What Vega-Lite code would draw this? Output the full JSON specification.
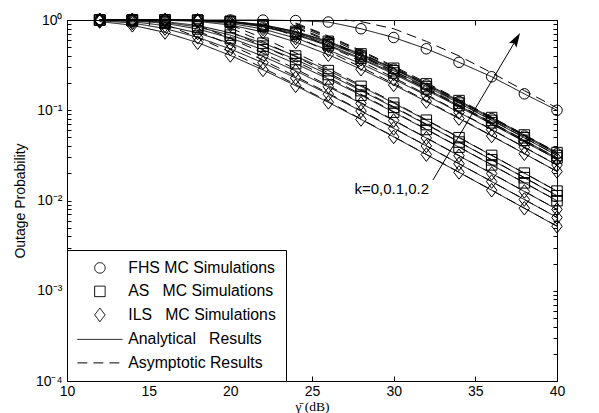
{
  "$schema": "https://vega.github.io/schema/vega-lite/v6.json",
  "width": 490,
  "height": 361,
  "autosize": {"type": "none"},
  "padding": {"left": 67, "top": 20, "right": 42, "bottom": 32},
  "background": "white",
  "config": {
    "font": "Liberation Sans",
    "view": {"stroke": "black", "strokeWidth": 1},
    "axis": {"grid": false, "domainColor": "black", "domainWidth": 1, "tickColor": "black", "tickWidth": 1, "labelColor": "black", "labelFont": "Liberation Sans", "labelFontSize": 14, "titleColor": "black", "titleFontWeight": "normal", "titleFontSize": 14, "labelOverlap": false, "labelFlush": false},
    "legend": {"orient": "bottom-left", "offset": 0, "padding": 10, "strokeColor": "black", "fillColor": "white", "labelFont": "Liberation Sans", "labelFontSize": 15.8, "labelColor": "black", "labelOffset": 20.5, "symbolOffset": 15, "rowPadding": 6.5, "symbolSize": 110, "symbolStrokeWidth": 1, "symbolStrokeColor": "black", "symbolFillColor": "transparent", "labelLimit": 300, "cornerRadius": 0}
  },
  "datasets": {
    "sim": [
      {"x":12,"p":1,"s":"F0","g":"FHS"},{"x":14,"p":1,"s":"F0","g":"FHS"},{"x":16,"p":1,"s":"F0","g":"FHS"},{"x":18,"p":1,"s":"F0","g":"FHS"},{"x":20,"p":1,"s":"F0","g":"FHS"},{"x":22,"p":0.998,"s":"F0","g":"FHS"},{"x":24,"p":0.985,"s":"F0","g":"FHS"},{"x":26,"p":0.95,"s":"F0","g":"FHS"},{"x":28,"p":0.8,"s":"F0","g":"FHS"},{"x":30,"p":0.64,"s":"F0","g":"FHS"},{"x":32,"p":0.48,"s":"F0","g":"FHS"},{"x":34,"p":0.34,"s":"F0","g":"FHS"},{"x":36,"p":0.235,"s":"F0","g":"FHS"},{"x":38,"p":0.152,"s":"F0","g":"FHS"},{"x":40,"p":0.1,"s":"F0","g":"FHS"},
      {"x":12,"p":1,"s":"F1","g":"FHS"},{"x":14,"p":1,"s":"F1","g":"FHS"},{"x":16,"p":0.9998,"s":"F1","g":"FHS"},{"x":18,"p":0.9951,"s":"F1","g":"FHS"},{"x":20,"p":0.965,"s":"F1","g":"FHS"},{"x":22,"p":0.879,"s":"F1","g":"FHS"},{"x":24,"p":0.737,"s":"F1","g":"FHS"},{"x":26,"p":0.569,"s":"F1","g":"FHS"},{"x":28,"p":0.412,"s":"F1","g":"FHS"},{"x":30,"p":0.285,"s":"F1","g":"FHS"},{"x":32,"p":0.1906,"s":"F1","g":"FHS"},{"x":34,"p":0.1249,"s":"F1","g":"FHS"},{"x":36,"p":0.0807,"s":"F1","g":"FHS"},{"x":38,"p":0.0517,"s":"F1","g":"FHS"},{"x":40,"p":0.0329,"s":"F1","g":"FHS"},
      {"x":12,"p":1,"s":"A1a","g":"AS"},{"x":14,"p":1,"s":"A1a","g":"AS"},{"x":16,"p":0.9998,"s":"A1a","g":"AS"},{"x":18,"p":0.9958,"s":"A1a","g":"AS"},{"x":20,"p":0.968,"s":"A1a","g":"AS"},{"x":22,"p":0.887,"s":"A1a","g":"AS"},{"x":24,"p":0.747,"s":"A1a","g":"AS"},{"x":26,"p":0.58,"s":"A1a","g":"AS"},{"x":28,"p":0.421,"s":"A1a","g":"AS"},{"x":30,"p":0.292,"s":"A1a","g":"AS"},{"x":32,"p":0.196,"s":"A1a","g":"AS"},{"x":34,"p":0.128,"s":"A1a","g":"AS"},{"x":36,"p":0.083,"s":"A1a","g":"AS"},{"x":38,"p":0.0532,"s":"A1a","g":"AS"},{"x":40,"p":0.0339,"s":"A1a","g":"AS"},
      {"x":12,"p":1,"s":"A1b","g":"AS"},{"x":14,"p":1,"s":"A1b","g":"AS"},{"x":16,"p":0.9997,"s":"A1b","g":"AS"},{"x":18,"p":0.9937,"s":"A1b","g":"AS"},{"x":20,"p":0.959,"s":"A1b","g":"AS"},{"x":22,"p":0.867,"s":"A1b","g":"AS"},{"x":24,"p":0.72,"s":"A1b","g":"AS"},{"x":26,"p":0.552,"s":"A1b","g":"AS"},{"x":28,"p":0.398,"s":"A1b","g":"AS"},{"x":30,"p":0.274,"s":"A1b","g":"AS"},{"x":32,"p":0.183,"s":"A1b","g":"AS"},{"x":34,"p":0.12,"s":"A1b","g":"AS"},{"x":36,"p":0.0772,"s":"A1b","g":"AS"},{"x":38,"p":0.0495,"s":"A1b","g":"AS"},{"x":40,"p":0.0315,"s":"A1b","g":"AS"},
      {"x":12,"p":1,"s":"A1c","g":"AS"},{"x":14,"p":1,"s":"A1c","g":"AS"},{"x":16,"p":0.9995,"s":"A1c","g":"AS"},{"x":18,"p":0.9914,"s":"A1c","g":"AS"},{"x":20,"p":0.95,"s":"A1c","g":"AS"},{"x":22,"p":0.849,"s":"A1c","g":"AS"},{"x":24,"p":0.697,"s":"A1c","g":"AS"},{"x":26,"p":0.529,"s":"A1c","g":"AS"},{"x":28,"p":0.378,"s":"A1c","g":"AS"},{"x":30,"p":0.259,"s":"A1c","g":"AS"},{"x":32,"p":0.1725,"s":"A1c","g":"AS"},{"x":34,"p":0.1126,"s":"A1c","g":"AS"},{"x":36,"p":0.0726,"s":"A1c","g":"AS"},{"x":38,"p":0.0464,"s":"A1c","g":"AS"},{"x":40,"p":0.0296,"s":"A1c","g":"AS"},
      {"x":12,"p":1,"s":"I1a","g":"ILS"},{"x":14,"p":1,"s":"I1a","g":"ILS"},{"x":16,"p":0.9993,"s":"I1a","g":"ILS"},{"x":18,"p":0.9899,"s":"I1a","g":"ILS"},{"x":20,"p":0.945,"s":"I1a","g":"ILS"},{"x":22,"p":0.84,"s":"I1a","g":"ILS"},{"x":24,"p":0.685,"s":"I1a","g":"ILS"},{"x":26,"p":0.517,"s":"I1a","g":"ILS"},{"x":28,"p":0.368,"s":"I1a","g":"ILS"},{"x":30,"p":0.252,"s":"I1a","g":"ILS"},{"x":32,"p":0.167,"s":"I1a","g":"ILS"},{"x":34,"p":0.109,"s":"I1a","g":"ILS"},{"x":36,"p":0.0702,"s":"I1a","g":"ILS"},{"x":38,"p":0.0449,"s":"I1a","g":"ILS"},{"x":40,"p":0.0286,"s":"I1a","g":"ILS"},
      {"x":12,"p":1,"s":"I1b","g":"ILS"},{"x":14,"p":1,"s":"I1b","g":"ILS"},{"x":16,"p":0.9981,"s":"I1b","g":"ILS"},{"x":18,"p":0.981,"s":"I1b","g":"ILS"},{"x":20,"p":0.918,"s":"I1b","g":"ILS"},{"x":22,"p":0.794,"s":"I1b","g":"ILS"},{"x":24,"p":0.63,"s":"I1b","g":"ILS"},{"x":26,"p":0.466,"s":"I1b","g":"ILS"},{"x":28,"p":0.327,"s":"I1b","g":"ILS"},{"x":30,"p":0.221,"s":"I1b","g":"ILS"},{"x":32,"p":0.146,"s":"I1b","g":"ILS"},{"x":34,"p":0.0947,"s":"I1b","g":"ILS"},{"x":36,"p":0.0609,"s":"I1b","g":"ILS"},{"x":38,"p":0.0388,"s":"I1b","g":"ILS"},{"x":40,"p":0.0247,"s":"I1b","g":"ILS"},
      {"x":12,"p":1,"s":"I1c","g":"ILS"},{"x":14,"p":0.9998,"s":"I1c","g":"ILS"},{"x":16,"p":0.9951,"s":"I1c","g":"ILS"},{"x":18,"p":0.965,"s":"I1c","g":"ILS"},{"x":20,"p":0.88,"s":"I1c","g":"ILS"},{"x":22,"p":0.738,"s":"I1c","g":"ILS"},{"x":24,"p":0.57,"s":"I1c","g":"ILS"},{"x":26,"p":0.413,"s":"I1c","g":"ILS"},{"x":28,"p":0.285,"s":"I1c","g":"ILS"},{"x":30,"p":0.191,"s":"I1c","g":"ILS"},{"x":32,"p":0.125,"s":"I1c","g":"ILS"},{"x":34,"p":0.0809,"s":"I1c","g":"ILS"},{"x":36,"p":0.0519,"s":"I1c","g":"ILS"},{"x":38,"p":0.033,"s":"I1c","g":"ILS"},{"x":40,"p":0.021,"s":"I1c","g":"ILS"},
      {"x":12,"p":0.9997,"s":"A0a","g":"AS"},{"x":14,"p":0.9939,"s":"A0a","g":"AS"},{"x":16,"p":0.96,"s":"A0a","g":"AS"},{"x":18,"p":0.869,"s":"A0a","g":"AS"},{"x":20,"p":0.722,"s":"A0a","g":"AS"},{"x":22,"p":0.554,"s":"A0a","g":"AS"},{"x":24,"p":0.399,"s":"A0a","g":"AS"},{"x":26,"p":0.275,"s":"A0a","g":"AS"},{"x":28,"p":0.184,"s":"A0a","g":"AS"},{"x":30,"p":0.12,"s":"A0a","g":"AS"},{"x":32,"p":0.0776,"s":"A0a","g":"AS"},{"x":34,"p":0.0497,"s":"A0a","g":"AS"},{"x":36,"p":0.0316,"s":"A0a","g":"AS"},{"x":38,"p":0.0201,"s":"A0a","g":"AS"},{"x":40,"p":0.0127,"s":"A0a","g":"AS"},
      {"x":12,"p":0.9992,"s":"A0b","g":"AS"},{"x":14,"p":0.9893,"s":"A0b","g":"AS"},{"x":16,"p":0.943,"s":"A0b","g":"AS"},{"x":18,"p":0.836,"s":"A0b","g":"AS"},{"x":20,"p":0.68,"s":"A0b","g":"AS"},{"x":22,"p":0.513,"s":"A0b","g":"AS"},{"x":24,"p":0.365,"s":"A0b","g":"AS"},{"x":26,"p":0.249,"s":"A0b","g":"AS"},{"x":28,"p":0.165,"s":"A0b","g":"AS"},{"x":30,"p":0.1077,"s":"A0b","g":"AS"},{"x":32,"p":0.0694,"s":"A0b","g":"AS"},{"x":34,"p":0.0444,"s":"A0b","g":"AS"},{"x":36,"p":0.0282,"s":"A0b","g":"AS"},{"x":38,"p":0.0179,"s":"A0b","g":"AS"},{"x":40,"p":0.0113,"s":"A0b","g":"AS"},
      {"x":12,"p":0.9982,"s":"A0c","g":"AS"},{"x":14,"p":0.981,"s":"A0c","g":"AS"},{"x":16,"p":0.919,"s":"A0c","g":"AS"},{"x":18,"p":0.795,"s":"A0c","g":"AS"},{"x":20,"p":0.632,"s":"A0c","g":"AS"},{"x":22,"p":0.468,"s":"A0c","g":"AS"},{"x":24,"p":0.328,"s":"A0c","g":"AS"},{"x":26,"p":0.222,"s":"A0c","g":"AS"},{"x":28,"p":0.1466,"s":"A0c","g":"AS"},{"x":30,"p":0.0952,"s":"A0c","g":"AS"},{"x":32,"p":0.0612,"s":"A0c","g":"AS"},{"x":34,"p":0.039,"s":"A0c","g":"AS"},{"x":36,"p":0.0248,"s":"A0c","g":"AS"},{"x":38,"p":0.0157,"s":"A0c","g":"AS"},{"x":40,"p":0.00995,"s":"A0c","g":"AS"},
      {"x":12,"p":0.9936,"s":"I0a","g":"ILS"},{"x":14,"p":0.959,"s":"I0a","g":"ILS"},{"x":16,"p":0.866,"s":"I0a","g":"ILS"},{"x":18,"p":0.719,"s":"I0a","g":"ILS"},{"x":20,"p":0.551,"s":"I0a","g":"ILS"},{"x":22,"p":0.396,"s":"I0a","g":"ILS"},{"x":24,"p":0.273,"s":"I0a","g":"ILS"},{"x":26,"p":0.182,"s":"I0a","g":"ILS"},{"x":28,"p":0.1191,"s":"I0a","g":"ILS"},{"x":30,"p":0.0769,"s":"I0a","g":"ILS"},{"x":32,"p":0.0492,"s":"I0a","g":"ILS"},{"x":34,"p":0.0313,"s":"I0a","g":"ILS"},{"x":36,"p":0.0199,"s":"I0a","g":"ILS"},{"x":38,"p":0.0126,"s":"I0a","g":"ILS"},{"x":40,"p":0.00797,"s":"I0a","g":"ILS"},
      {"x":12,"p":0.983,"s":"I0b","g":"ILS"},{"x":14,"p":0.925,"s":"I0b","g":"ILS"},{"x":16,"p":0.805,"s":"I0b","g":"ILS"},{"x":18,"p":0.643,"s":"I0b","g":"ILS"},{"x":20,"p":0.478,"s":"I0b","g":"ILS"},{"x":22,"p":0.336,"s":"I0b","g":"ILS"},{"x":24,"p":0.228,"s":"I0b","g":"ILS"},{"x":26,"p":0.1506,"s":"I0b","g":"ILS"},{"x":28,"p":0.0979,"s":"I0b","g":"ILS"},{"x":30,"p":0.0629,"s":"I0b","g":"ILS"},{"x":32,"p":0.0402,"s":"I0b","g":"ILS"},{"x":34,"p":0.0255,"s":"I0b","g":"ILS"},{"x":36,"p":0.0162,"s":"I0b","g":"ILS"},{"x":38,"p":0.01025,"s":"I0b","g":"ILS"},{"x":40,"p":0.00648,"s":"I0b","g":"ILS"},
      {"x":12,"p":0.962,"s":"I0c","g":"ILS"},{"x":14,"p":0.874,"s":"I0c","g":"ILS"},{"x":16,"p":0.729,"s":"I0c","g":"ILS"},{"x":18,"p":0.561,"s":"I0c","g":"ILS"},{"x":20,"p":0.405,"s":"I0c","g":"ILS"},{"x":22,"p":0.28,"s":"I0c","g":"ILS"},{"x":24,"p":0.187,"s":"I0c","g":"ILS"},{"x":26,"p":0.1224,"s":"I0c","g":"ILS"},{"x":28,"p":0.0791,"s":"I0c","g":"ILS"},{"x":30,"p":0.0507,"s":"I0c","g":"ILS"},{"x":32,"p":0.0323,"s":"I0c","g":"ILS"},{"x":34,"p":0.0205,"s":"I0c","g":"ILS"},{"x":36,"p":0.013,"s":"I0c","g":"ILS"},{"x":38,"p":0.00821,"s":"I0c","g":"ILS"},{"x":40,"p":0.00519,"s":"I0c","g":"ILS"}
    ],
    "asy": [
      {"x":27,"p":1,"s":"F0"},{"x":28,"p":0.96,"s":"F0"},{"x":30,"p":0.8,"s":"F0"},{"x":32,"p":0.58,"s":"F0"},{"x":34,"p":0.4,"s":"F0"},{"x":36,"p":0.26,"s":"F0"},{"x":38,"p":0.165,"s":"F0"},{"x":40,"p":0.106,"s":"F0"},
      {"x":24,"p":0.909,"s":"F1"},{"x":26,"p":0.65,"s":"F1"},{"x":28,"p":0.448,"s":"F1"},{"x":30,"p":0.3,"s":"F1"},{"x":32,"p":0.1968,"s":"F1"},{"x":34,"p":0.1274,"s":"F1"},{"x":36,"p":0.0817,"s":"F1"},{"x":38,"p":0.0521,"s":"F1"},{"x":40,"p":0.0331,"s":"F1"},
      {"x":24,"p":0.928,"s":"A1a"},{"x":26,"p":0.665,"s":"A1a"},{"x":28,"p":0.459,"s":"A1a"},{"x":30,"p":0.308,"s":"A1a"},{"x":32,"p":0.2023,"s":"A1a"},{"x":34,"p":0.131,"s":"A1a"},{"x":36,"p":0.0841,"s":"A1a"},{"x":38,"p":0.0537,"s":"A1a"},{"x":40,"p":0.0341,"s":"A1a"},
      {"x":24,"p":0.881,"s":"A1b"},{"x":26,"p":0.627,"s":"A1b"},{"x":28,"p":0.431,"s":"A1b"},{"x":30,"p":0.288,"s":"A1b"},{"x":32,"p":0.1886,"s":"A1b"},{"x":34,"p":0.122,"s":"A1b"},{"x":36,"p":0.0782,"s":"A1b"},{"x":38,"p":0.0498,"s":"A1b"},{"x":40,"p":0.0316,"s":"A1b"},
      {"x":24,"p":0.842,"s":"A1c"},{"x":26,"p":0.596,"s":"A1c"},{"x":28,"p":0.408,"s":"A1c"},{"x":30,"p":0.2715,"s":"A1c"},{"x":32,"p":0.1775,"s":"A1c"},{"x":34,"p":0.1146,"s":"A1c"},{"x":36,"p":0.0734,"s":"A1c"},{"x":38,"p":0.0468,"s":"A1c"},{"x":40,"p":0.0297,"s":"A1c"},
      {"x":24,"p":0.822,"s":"I1a"},{"x":26,"p":0.58,"s":"I1a"},{"x":28,"p":0.396,"s":"I1a"},{"x":30,"p":0.2633,"s":"I1a"},{"x":32,"p":0.172,"s":"I1a"},{"x":34,"p":0.111,"s":"I1a"},{"x":36,"p":0.071,"s":"I1a"},{"x":38,"p":0.0452,"s":"I1a"},{"x":40,"p":0.0287,"s":"I1a"},
      {"x":24,"p":0.738,"s":"I1b"},{"x":26,"p":0.515,"s":"I1b"},{"x":28,"p":0.348,"s":"I1b"},{"x":30,"p":0.23,"s":"I1b"},{"x":32,"p":0.1495,"s":"I1b"},{"x":34,"p":0.0962,"s":"I1b"},{"x":36,"p":0.0614,"s":"I1b"},{"x":38,"p":0.0391,"s":"I1b"},{"x":40,"p":0.0248,"s":"I1b"},
      {"x":22,"p":0.911,"s":"I1c"},{"x":24,"p":0.652,"s":"I1c"},{"x":26,"p":0.449,"s":"I1c"},{"x":28,"p":0.3006,"s":"I1c"},{"x":30,"p":0.1974,"s":"I1c"},{"x":32,"p":0.1278,"s":"I1c"},{"x":34,"p":0.082,"s":"I1c"},{"x":36,"p":0.0523,"s":"I1c"},{"x":38,"p":0.0332,"s":"I1c"},{"x":40,"p":0.021,"s":"I1c"},
      {"x":20,"p":0.884,"s":"A0a"},{"x":22,"p":0.63,"s":"A0a"},{"x":24,"p":0.432,"s":"A0a"},{"x":26,"p":0.289,"s":"A0a"},{"x":28,"p":0.1894,"s":"A0a"},{"x":30,"p":0.1225,"s":"A0a"},{"x":32,"p":0.0785,"s":"A0a"},{"x":34,"p":0.0501,"s":"A0a"},{"x":36,"p":0.0318,"s":"A0a"},{"x":38,"p":0.0201,"s":"A0a"},{"x":40,"p":0.01274,"s":"A0a"},
      {"x":20,"p":0.815,"s":"A0b"},{"x":22,"p":0.575,"s":"A0b"},{"x":24,"p":0.392,"s":"A0b"},{"x":26,"p":0.26,"s":"A0b"},{"x":28,"p":0.1699,"s":"A0b"},{"x":30,"p":0.1096,"s":"A0b"},{"x":32,"p":0.0702,"s":"A0b"},{"x":34,"p":0.0447,"s":"A0b"},{"x":36,"p":0.02835,"s":"A0b"},{"x":38,"p":0.01797,"s":"A0b"},{"x":40,"p":0.01136,"s":"A0b"},
      {"x":20,"p":0.741,"s":"A0c"},{"x":22,"p":0.517,"s":"A0c"},{"x":24,"p":0.349,"s":"A0c"},{"x":26,"p":0.231,"s":"A0c"},{"x":28,"p":0.1502,"s":"A0c"},{"x":30,"p":0.0966,"s":"A0c"},{"x":32,"p":0.0617,"s":"A0c"},{"x":34,"p":0.0393,"s":"A0c"},{"x":36,"p":0.0249,"s":"A0c"},{"x":38,"p":0.01576,"s":"A0c"},{"x":40,"p":0.00997,"s":"A0c"},
      {"x":18,"p":0.878,"s":"I0a"},{"x":20,"p":0.625,"s":"I0a"},{"x":22,"p":0.429,"s":"I0a"},{"x":24,"p":0.2866,"s":"I0a"},{"x":26,"p":0.1877,"s":"I0a"},{"x":28,"p":0.1214,"s":"I0a"},{"x":30,"p":0.0778,"s":"I0a"},{"x":32,"p":0.0496,"s":"I0a"},{"x":34,"p":0.0315,"s":"I0a"},{"x":36,"p":0.02,"s":"I0a"},{"x":38,"p":0.01262,"s":"I0a"},{"x":40,"p":0.00798,"s":"I0a"},
      {"x":18,"p":0.757,"s":"I0b"},{"x":20,"p":0.53,"s":"I0b"},{"x":22,"p":0.359,"s":"I0b"},{"x":24,"p":0.2373,"s":"I0b"},{"x":26,"p":0.1545,"s":"I0b"},{"x":28,"p":0.0994,"s":"I0b"},{"x":30,"p":0.0636,"s":"I0b"},{"x":32,"p":0.0404,"s":"I0b"},{"x":34,"p":0.0256,"s":"I0b"},{"x":36,"p":0.01624,"s":"I0b"},{"x":38,"p":0.01027,"s":"I0b"},{"x":40,"p":0.00649,"s":"I0b"},
      {"x":16,"p":0.896,"s":"I0c"},{"x":18,"p":0.64,"s":"I0c"},{"x":20,"p":0.44,"s":"I0c"},{"x":22,"p":0.2943,"s":"I0c"},{"x":24,"p":0.193,"s":"I0c"},{"x":26,"p":0.1249,"s":"I0c"},{"x":28,"p":0.0801,"s":"I0c"},{"x":30,"p":0.0511,"s":"I0c"},{"x":32,"p":0.0324,"s":"I0c"},{"x":34,"p":0.0206,"s":"I0c"},{"x":36,"p":0.01303,"s":"I0c"},{"x":38,"p":0.00822,"s":"I0c"},{"x":40,"p":0.0052,"s":"I0c"}
    ],
    "ann": [{"x":27.6,"p":0.0134,"t":"k=0,0.1,0.2"}],
    "arr": [{"x":32.41,"p":0.0169,"x2":37.44,"p2":0.582}]
  },
  "layer": [
    {
      "data": {"name": "asy"},
      "mark": {"type": "line", "color": "black", "strokeWidth": 1},
      "encoding": {
        "x": {"field": "x", "type": "quantitative", "scale": {"domain": [10, 40], "nice": false, "zero": false},
              "axis": {"orient": "bottom", "values": [10,15,20,25,30,35,40], "tickSize": -5, "labelPadding": 8, "title": "γ̄ (dB)", "titleFont": "Liberation Serif", "titleFontSize": 13.5, "titleBaseline": "alphabetic", "titleY": 29.5}},
        "y": {"field": "p", "type": "quantitative", "scale": {"type": "log", "domain": [0.0001, 1], "nice": false},
              "axis": {"orient": "left", "values": [0.0001,0.0002,0.0003,0.0004,0.0005,0.0006,0.0007,0.0008,0.0009,0.001,0.002,0.003,0.004,0.005,0.006,0.007,0.008,0.009,0.01,0.02,0.03,0.04,0.05,0.06,0.07,0.08,0.09,0.1,0.2,0.3,0.4,0.5,0.6,0.7,0.8,0.9,1],
                       "tickSize": -4, "labelPadding": 9, "labelBaseline": "middle",
                       "labelExpr": "datum.value == 1 ? '10⁰' : datum.value == 0.1 ? '10⁻¹' : datum.value == 0.01 ? '10⁻²' : datum.value == 0.001 ? '10⁻³' : datum.value == 0.0001 ? '10⁻⁴' : ''",
                       "title": "Outage Probability", "titleX": -47, "titleBaseline": "middle"}},
        "detail": {"field": "s"},
        "strokeDash": {"datum": "ASY", "type": "nominal",
                       "scale": {"domain": ["FHS","AS","ILS","ANA","ASY"], "range": [[1,0],[1,0],[1,0],[1,0],[10,6]]},
                       "legend": {"title": null, "labelExpr": "datum.label == 'FHS' ? 'FHS MC Simulations' : datum.label == 'AS' ? 'AS\u00a0\u00a0\u00a0MC Simulations' : datum.label == 'ILS' ? 'ILS\u00a0\u00a0\u00a0MC Simulations' : datum.label == 'ANA' ? 'Analytical\u00a0\u00a0\u00a0Results' : 'Asymptotic Results'"}}
      }
    },
    {
      "data": {"name": "sim"},
      "mark": {"type": "line", "color": "black", "strokeWidth": 1},
      "encoding": {
        "x": {"field": "x", "type": "quantitative", "scale": {"domain": [10, 40], "nice": false, "zero": false},
              "axis": {"orient": "top", "values": [10,15,20,25,30,35,40], "tickSize": -5, "labels": false, "title": null}},
        "y": {"field": "p", "type": "quantitative", "scale": {"type": "log", "domain": [0.0001, 1], "nice": false},
              "axis": {"orient": "right", "values": [0.0001,0.0002,0.0003,0.0004,0.0005,0.0006,0.0007,0.0008,0.0009,0.001,0.002,0.003,0.004,0.005,0.006,0.007,0.008,0.009,0.01,0.02,0.03,0.04,0.05,0.06,0.07,0.08,0.09,0.1,0.2,0.3,0.4,0.5,0.6,0.7,0.8,0.9,1], "tickSize": -4, "labels": false, "title": null}},
        "detail": {"field": "s"},
        "strokeDash": {"datum": "ANA", "type": "nominal",
                       "scale": {"domain": ["FHS","AS","ILS","ANA","ASY"], "range": [[1,0],[1,0],[1,0],[1,0],[10,6]]},
                       "legend": {"title": null, "labelExpr": "datum.label == 'FHS' ? 'FHS MC Simulations' : datum.label == 'AS' ? 'AS\u00a0\u00a0\u00a0MC Simulations' : datum.label == 'ILS' ? 'ILS\u00a0\u00a0\u00a0MC Simulations' : datum.label == 'ANA' ? 'Analytical\u00a0\u00a0\u00a0Results' : 'Asymptotic Results'"}}
      }
    },
    {
      "data": {"name": "sim"},
      "mark": {"type": "point", "filled": false, "size": 110, "strokeWidth": 1, "color": "black", "opacity": 1},
      "encoding": {
        "x": {"field": "x", "type": "quantitative", "scale": {"domain": [10, 40], "nice": false, "zero": false}, "axis": null},
        "y": {"field": "p", "type": "quantitative", "scale": {"type": "log", "domain": [0.0001, 1], "nice": false}, "axis": null},
        "shape": {"field": "g", "type": "nominal",
                  "scale": {"domain": ["FHS","AS","ILS","ANA","ASY"], "range": ["circle","square","M0,-1.3L1,0L0,1.3L-1,0Z","M-4.3,0H4.3","M-4.3,0H4.3"]},
                  "legend": {"title": null, "labelExpr": "datum.label == 'FHS' ? 'FHS MC Simulations' : datum.label == 'AS' ? 'AS\u00a0\u00a0\u00a0MC Simulations' : datum.label == 'ILS' ? 'ILS\u00a0\u00a0\u00a0MC Simulations' : datum.label == 'ANA' ? 'Analytical\u00a0\u00a0\u00a0Results' : 'Asymptotic Results'"}}
      }
    },
    {
      "data": {"name": "ann"},
      "mark": {"type": "text", "align": "left", "baseline": "middle", "fontSize": 15, "font": "Liberation Sans", "color": "black"},
      "encoding": {
        "x": {"field": "x", "type": "quantitative", "scale": {"domain": [10, 40], "nice": false, "zero": false}, "axis": null},
        "y": {"field": "p", "type": "quantitative", "scale": {"type": "log", "domain": [0.0001, 1], "nice": false}, "axis": null},
        "text": {"field": "t"}
      }
    },
    {
      "data": {"name": "arr"},
      "mark": {"type": "rule", "color": "black", "strokeWidth": 1},
      "encoding": {
        "x": {"field": "x", "type": "quantitative", "scale": {"domain": [10, 40], "nice": false, "zero": false}, "axis": null},
        "y": {"field": "p", "type": "quantitative", "scale": {"type": "log", "domain": [0.0001, 1], "nice": false}, "axis": null},
        "x2": {"field": "x2"},
        "y2": {"field": "p2"}
      }
    },
    {
      "data": {"name": "arr"},
      "mark": {"type": "point", "filled": true, "color": "black", "opacity": 1, "size": 250, "angle": 30.6, "shape": "M0,-1.2L0.55,0.6L0,0.3L-0.55,0.6Z"},
      "encoding": {
        "x": {"field": "x2", "type": "quantitative", "scale": {"domain": [10, 40], "nice": false, "zero": false}, "axis": null},
        "y": {"field": "p2", "type": "quantitative", "scale": {"type": "log", "domain": [0.0001, 1], "nice": false}, "axis": null}
      }
    }
  ],
  "resolve": {"axis": {"x": "independent", "y": "independent"}}
}
